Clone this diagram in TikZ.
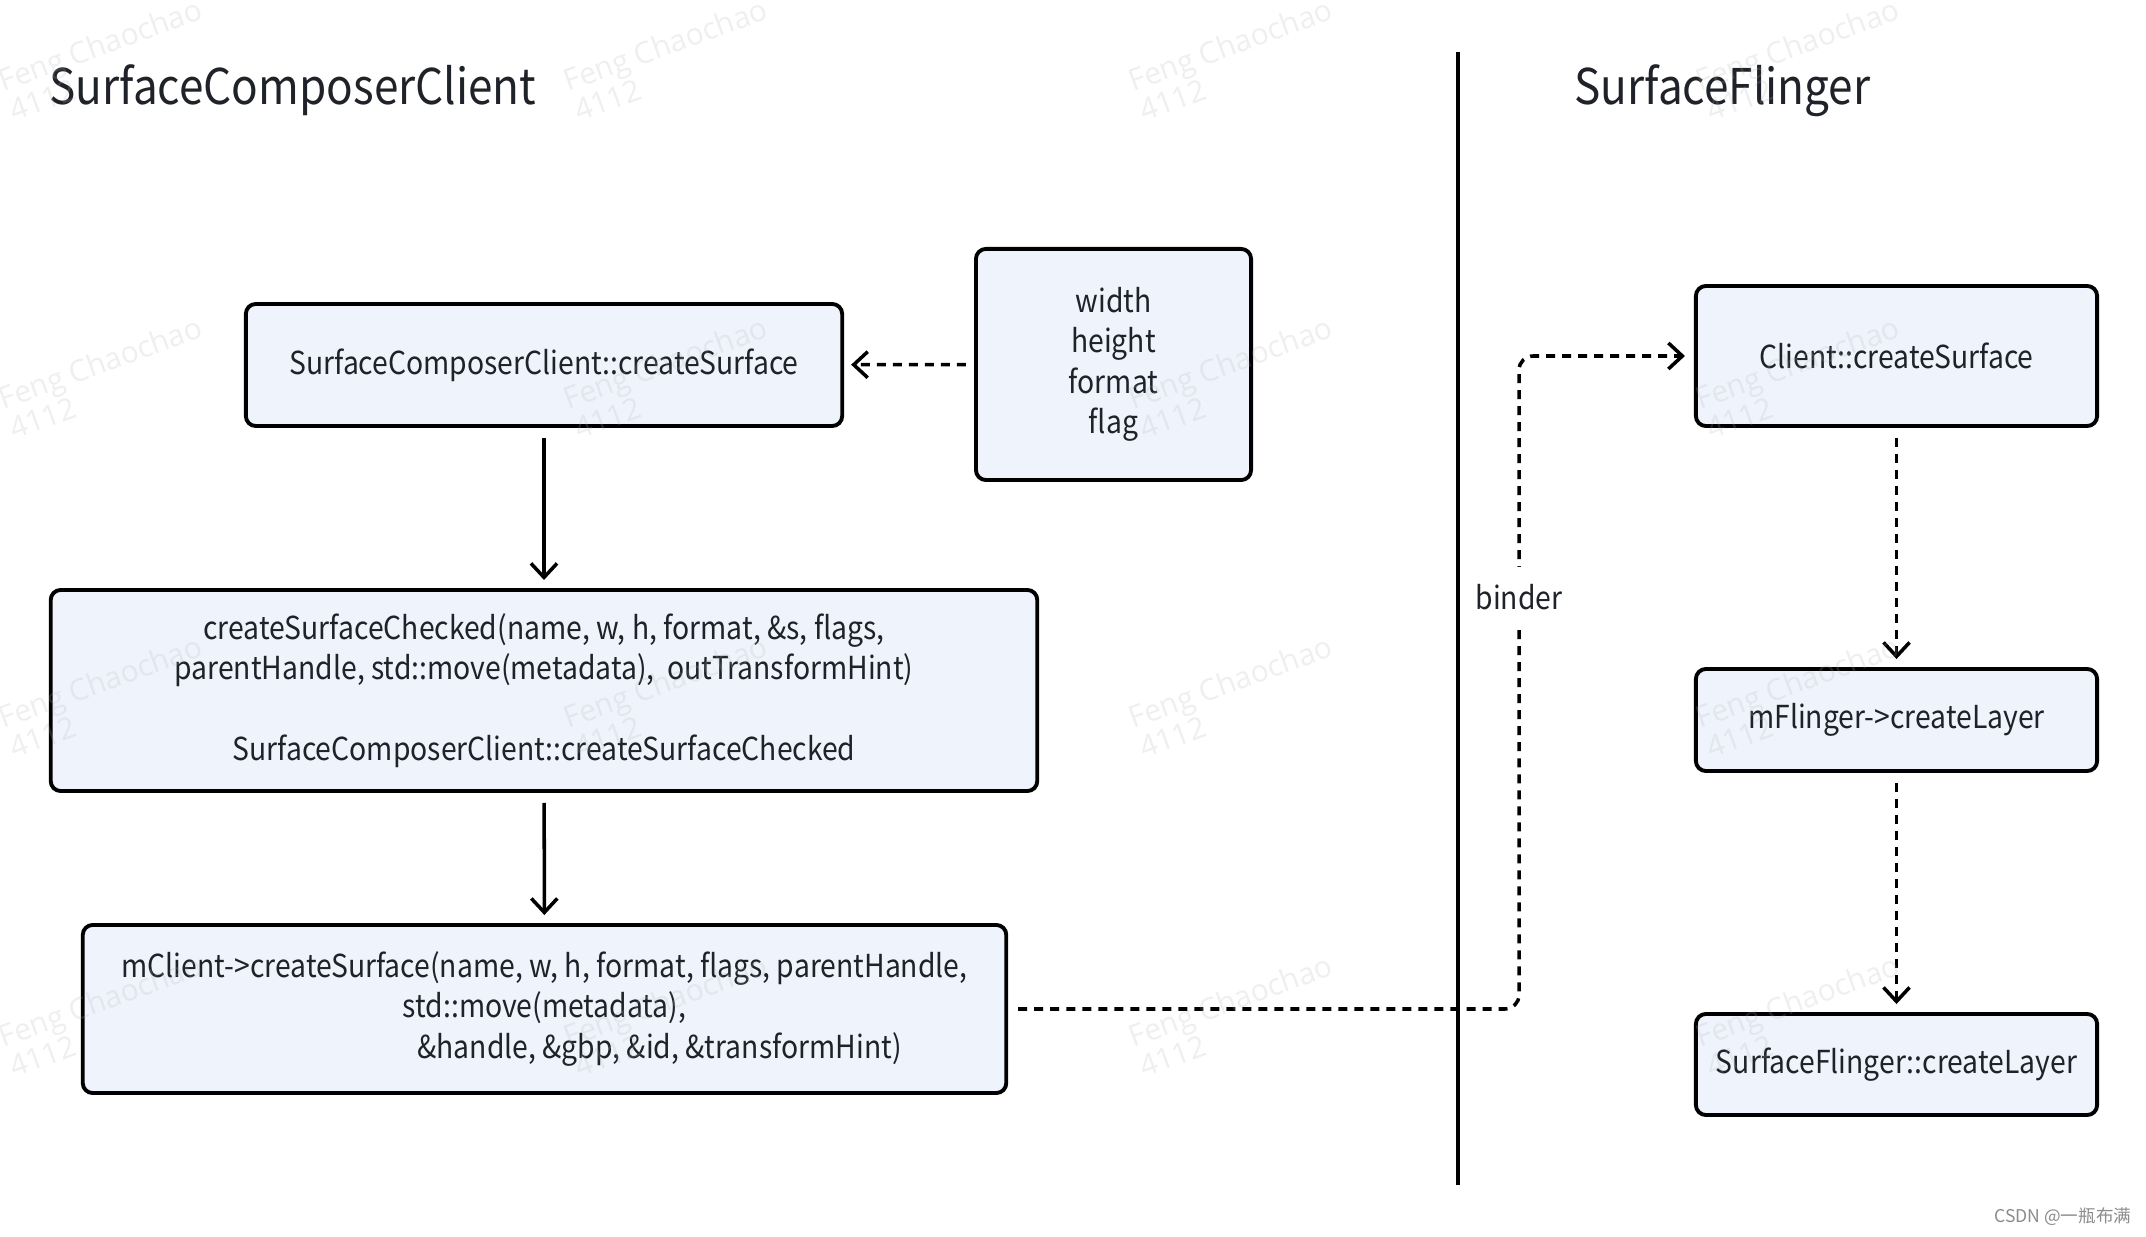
\documentclass[tikz,border=0pt]{standalone}
\usepackage{fontspec}
\setmainfont{Noto Sans CJK SC}[FakeStretch=0.895]
\newfontfamily\wmfont{Open Sans}
\newfontfamily\csdnfont{Noto Sans CJK SC}
\usepackage{tikz}
\usetikzlibrary{arrows.meta}
\definecolor{boxfill}{RGB}{239,243,252}
\definecolor{inkdark}{RGB}{31,35,41}
\definecolor{csdngray}{RGB}{140,140,140}

\begin{document}
\begin{tikzpicture}[x=0.01cm, y=0.01cm,
	callbox/.style={draw=black, line width=1.1pt, rounded corners=0.1cm, fill=boxfill, text=inkdark, align=center, inner sep=0pt, font=\fontsize{9}{11.5}\selectfont},
	heading/.style={text=inkdark, font=\fontsize{14}{16}\selectfont, inner sep=0pt, anchor=base west},
	callarrow/.style={line width=1pt, -{Straight Barb[length=0.14cm, width=0.26cm]}},
	dashedcall/.style={callarrow, dash pattern=on 0.09cm off 0.07cm},
	wmark/.style={text=gray!60, opacity=0.2, font=\wmfont\fontsize{8.5}{10}\selectfont, rotate=20, anchor=base west, inner sep=0pt}]
				\fill[white] (0,0) rectangle (2146,1236);
				\useasboundingbox (0,0) rectangle (2146,1236);
				\node[heading] (clientside) at (49,1131) {SurfaceComposerClient};
				\node[heading] (serverside) at (1574,1131) {SurfaceFlinger};
				\coordinate (divtop) at (1458,1184);
				\coordinate (divbot) at (1458,51);
				\draw[line width=1.1pt] (divtop) -- (divbot);
				\node[callbox, minimum width=5.96cm, minimum height=1.22cm] (scccreate) at (544,871) {SurfaceComposerClient::createSurface};
				\node[callbox, minimum width=2.75cm, minimum height=2.31cm] (params) at (1113.5,871.5) {width\\height\\format\\flag};
				\node[callbox, minimum width=9.86cm, minimum height=2.01cm] (checked) at (544,545.5) {createSurfaceChecked(name, w, h, format, \&s, flags,\\parentHandle, std::move(metadata),\ \ outTransformHint)\\[11.5pt]SurfaceComposerClient::createSurfaceChecked};
				\node[callbox, minimum width=9.23cm, minimum height=1.68cm] (mclient) at (544.5,227) {mClient->createSurface(name, w, h, format, flags, parentHandle,\\std::move(metadata),\\\hspace*{2.3cm}\&handle, \&gbp, \&id, \&transformHint)};
				\node[callbox, minimum width=4.01cm, minimum height=1.40cm] (clientcreate) at (1896.5,880) {Client::createSurface};
				\node[callbox, minimum width=4.01cm, minimum height=1.02cm] (flingerlayer) at (1896.5,516) {mFlinger->createLayer};
				\node[callbox, minimum width=4.01cm, minimum height=1.01cm] (sflayer) at (1896.5,171.5) {SurfaceFlinger::createLayer};
				\draw[dashedcall, shorten <=0.08cm, shorten >=0.07cm] (params) -- (scccreate);
				\draw[callarrow, shorten <=0.1cm, shorten >=0.08cm] (scccreate) -- (checked);
				\draw[callarrow, shorten <=0.1cm, shorten >=0.08cm] (checked) -- (mclient);
				\coordinate (bendlow) at (1519,227);
				\coordinate (bendhigh) at (1519,880);
				\draw[dashedcall, rounded corners=0.14cm, shorten <=0.1cm, shorten >=0.09cm] (mclient.east) -- (bendlow) -- node[pos=0.63, fill=white, text=inkdark, inner xsep=0.05cm, inner ysep=0.18cm, font=\fontsize{9}{11}\selectfont] (binder) {binder} (bendhigh) -- (clientcreate.west);
				\draw[dashedcall, shorten <=0.1cm, shorten >=0.08cm] (clientcreate) -- (flingerlayer);
				\draw[dashedcall, shorten <=0.1cm, shorten >=0.08cm] (flingerlayer) -- (sflayer);
				\node[text=csdngray, font=\csdnfont\fontsize{5}{6}\selectfont, anchor=east, inner sep=0pt] (csdn) at (2132,19) {CSDN @一瓶布满};
				\foreach \wx in {3,568,1133,1700}
					\foreach \wy in {1144,826,507,188} {
						\node[wmark] (wm-\wx-\wy) at (\wx,\wy) {Feng Chaochao};
						\node[wmark] (wmid-\wx-\wy) at (\wx+11,\wy-30) {4112};
					}
			\end{tikzpicture}
\end{document}
